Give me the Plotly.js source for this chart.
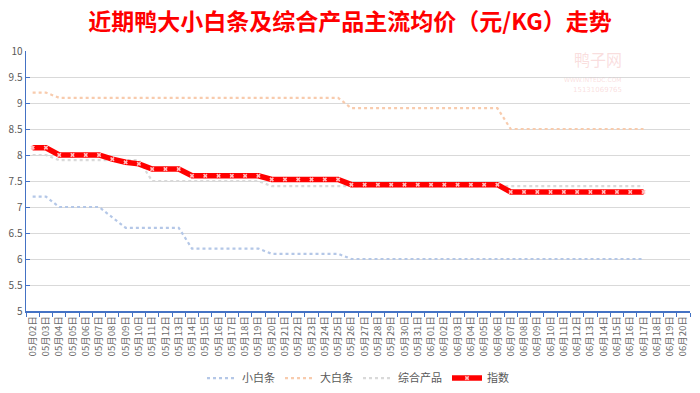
<!DOCTYPE html>
<html>
<head>
<meta charset="utf-8">
<script src="https://cdn.plot.ly/plotly-3.0.1.min.js"></script>
<style>html,body{margin:0;padding:0;background:#fff;}#chart{width:700px;height:393px;}</style>
</head>
<body>
<div id="chart"></div>
<script>
// Categories: 05月02日 .. 06月20日
const categories = [
  "05月02日","05月03日","05月04日","05月05日","05月06日","05月07日","05月08日","05月09日","05月10日","05月11日",
  "05月12日","05月13日","05月14日","05月15日","05月16日","05月17日","05月18日","05月19日","05月20日","05月21日",
  "05月22日","05月23日","05月24日","05月25日","05月26日","05月27日","05月28日","05月29日","05月30日","05月31日",
  "06月01日","06月02日","06月03日","06月04日","06月05日","06月06日","06月07日","06月08日","06月09日","06月10日",
  "06月11日","06月12日","06月13日","06月14日","06月15日","06月16日","06月17日","06月18日","06月19日","06月20日"
];
// 小白条
const xiaoBaiTiao = [
  7.2,7.2,7.0,7.0,7.0,7.0,6.8,6.6,6.6,6.6,
  6.6,6.6,6.2,6.2,6.2,6.2,6.2,6.2,6.1,6.1,
  6.1,6.1,6.1,6.1,6.0,6.0,6.0,6.0,6.0,6.0,
  6.0,6.0,6.0,6.0,6.0,6.0,6.0,6.0,6.0,6.0,
  6.0,6.0,6.0,6.0,6.0,6.0,6.0,null,null,null
];
// 大白条
const daBaiTiao = [
  9.2,9.2,9.1,9.1,9.1,9.1,9.1,9.1,9.1,9.1,
  9.1,9.1,9.1,9.1,9.1,9.1,9.1,9.1,9.1,9.1,
  9.1,9.1,9.1,9.1,8.9,8.9,8.9,8.9,8.9,8.9,
  8.9,8.9,8.9,8.9,8.9,8.9,8.5,8.5,8.5,8.5,
  8.5,8.5,8.5,8.5,8.5,8.5,8.5,null,null,null
];
// 综合产品
const zongHe = [
  8.0,8.0,7.9,7.9,7.9,7.9,7.9,7.9,7.9,7.5,
  7.5,7.5,7.5,7.5,7.5,7.5,7.5,7.5,7.4,7.4,
  7.4,7.4,7.4,7.4,7.4,7.4,7.4,7.4,7.4,7.4,
  7.4,7.4,7.4,7.4,7.4,7.4,7.4,7.4,7.4,7.4,
  7.4,7.4,7.4,7.4,7.4,7.4,7.4,null,null,null
];
// 指数
const zhiShu = [
  8.14,8.14,8.0,8.0,8.0,8.0,7.92,7.86,7.83,7.73,
  7.73,7.73,7.6,7.6,7.6,7.6,7.6,7.6,7.53,7.53,
  7.53,7.53,7.53,7.53,7.43,7.43,7.43,7.43,7.43,7.43,
  7.43,7.43,7.43,7.43,7.43,7.43,7.29,7.29,7.29,7.29,
  7.29,7.29,7.29,7.29,7.29,7.29,7.29,null,null,null
];
const yTicks = [5,5.5,6,6.5,7,7.5,8,8.5,9,9.5,10];
const yTickText = ["5","5.5","6","6.5","7","7.5","8","8.5","9","9.5","10"];

const font = "'Microsoft YaHei','Noto Sans CJK SC','DejaVu Sans',sans-serif";

const traces = [
  {name:"小白条", x:categories, y:xiaoBaiTiao, type:"scatter", mode:"lines",
   line:{color:"#b4c7e7", width:2.2, dash:"dot"}},
  {name:"大白条", x:categories, y:daBaiTiao, type:"scatter", mode:"lines",
   line:{color:"#f8cbad", width:2.2, dash:"dot"}},
  {name:"综合产品", x:categories, y:zongHe, type:"scatter", mode:"lines",
   line:{color:"#d9d9d9", width:2.2, dash:"dot"}},
  {name:"指数", x:categories, y:zhiShu, type:"scatter", mode:"lines+markers",
   line:{color:"#ff0000", width:5.5},
   marker:{symbol:"x", size:4, color:"#ffc0c0", line:{width:0}}}
];

const layout = {
  width:700, height:393,
  paper_bgcolor:"#ffffff", plot_bgcolor:"#ffffff",
  margin:{l:26, r:10, t:51, b:82},
  title:{text:"近期鸭大小白条及综合产品主流均价（元/KG）走势", x:0.5, xanchor:"center",
         yref:"container", y:0.944, yanchor:"middle",
         font:{family:"'Noto Sans CJK SC',sans-serif", size:23, color:"#ff0000", weight:"bold"}},
  showlegend:true,
  legend:{orientation:"h", x:0.5, xanchor:"center", yref:"container", y:0.038, yanchor:"middle",
          font:{family:font, size:11, color:"#595959"}, itemwidth:30, traceorder:"normal"},
  xaxis:{type:"category", range:[-0.5,49.5], tickangle:-90, tickson:"boundaries",
         ticks:"outside", ticklen:4, tickcolor:"#4472c4", tickwidth:1,
         showline:true, linecolor:"#4472c4", linewidth:1.5, showgrid:false, zeroline:false,
         tickfont:{family:font, size:9.5, color:"#6b6b6b"}, automargin:false},
  yaxis:{range:[5,10], tickvals:yTicks, ticktext:yTickText, ticks:"inside", ticklen:4, tickcolor:"#4472c4",
         showline:true, linecolor:"#4472c4", linewidth:1.5, showgrid:true, gridcolor:"#d9d9d9", gridwidth:1,
         zeroline:false, tickfont:{family:font, size:10, color:"#595959"}, automargin:false},
  annotations:[
    {text:"鸭子网", xref:"paper", yref:"paper", x:0.9, y:0.915, yanchor:"bottom", showarrow:false,
     font:{family:"'Noto Sans CJK SC',sans-serif", size:16, color:"rgba(240,160,160,0.35)"}},
    {text:"WWW.INTEDC.COM", xref:"paper", yref:"paper", x:0.9, y:0.91, yanchor:"top", showarrow:false,
     font:{family:"DejaVu Sans", size:6, color:"rgba(240,160,160,0.35)"}},
    {text:"15131069765", xref:"paper", yref:"paper", x:0.9, y:0.872, yanchor:"top", showarrow:false,
     font:{family:"DejaVu Sans", size:7, color:"rgba(240,160,160,0.35)"}}
  ]
};

Plotly.newPlot("chart", traces, layout, {displayModeBar:false, staticPlot:true});
</script>
</body>
</html>
